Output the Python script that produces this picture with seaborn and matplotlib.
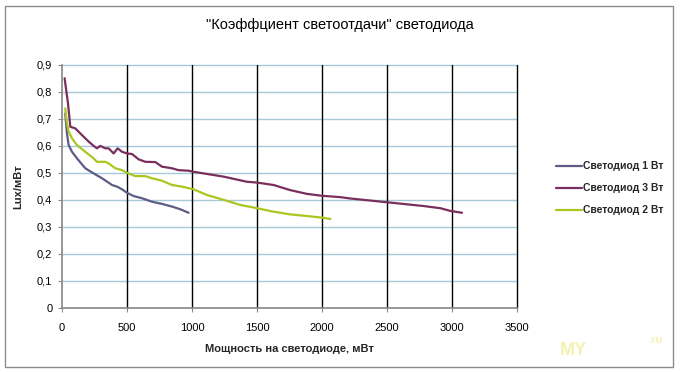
import numpy as np
import pandas as pd
import matplotlib
matplotlib.use("Agg")
import matplotlib.pyplot as plt
import seaborn as sns
from matplotlib.patches import Rectangle

title = '"Коэффциент светоотдачи" светодиода'
x_label = "Мощность на светодиоде, мВт"
y_label = "Lux/мВт"
series_names = ["Светодиод 1 Вт", "Светодиод 3 Вт", "Светодиод 2 Вт"]

x_1w = [25, 38, 51, 77, 115, 179, 243, 308, 385, 423, 462, 500, 551, 615, 692, 769, 846, 910, 974]
y_1w = [0.72, 0.647, 0.603, 0.578, 0.554, 0.517, 0.498, 0.48, 0.455, 0.449, 0.439, 0.426, 0.414, 0.406,
        0.393, 0.385, 0.375, 0.365, 0.352]

x_3w = [20, 46, 64, 102, 154, 205, 243, 269, 295, 333, 359, 397, 428, 462, 500, 538, 590, 641, 718,
        769, 846, 897, 974, 1012, 1243, 1423, 1500, 1628, 1756, 1885, 2000, 2141, 2218, 2500, 2782,
        2910, 2987, 3077]
y_3w = [0.851, 0.758, 0.671, 0.665, 0.64, 0.616, 0.60, 0.591, 0.60, 0.591, 0.591, 0.572, 0.591, 0.578,
        0.572, 0.57, 0.55, 0.541, 0.54, 0.523, 0.517, 0.51, 0.508, 0.504, 0.486, 0.467, 0.464, 0.455,
        0.436, 0.422, 0.415, 0.41, 0.405, 0.391, 0.377, 0.369, 0.359, 0.352]

x_2w = [25, 38, 51, 77, 115, 179, 243, 269, 333, 359, 410, 462, 500, 564, 641, 692, 769, 846, 923,
        1012, 1115, 1243, 1372, 1500, 1628, 1756, 1885, 2000, 2064]
y_2w = [0.739, 0.684, 0.653, 0.628, 0.603, 0.578, 0.554, 0.541, 0.541, 0.535, 0.517, 0.51, 0.50, 0.488,
        0.488, 0.48, 0.471, 0.455, 0.449, 0.439, 0.418, 0.40, 0.381, 0.369, 0.356, 0.346, 0.34, 0.334,
        0.329]

x_ticks = [0, 500, 1000, 1500, 2000, 2500, 3000, 3500]
y_ticks = [0, 0.1, 0.2, 0.3, 0.4, 0.5, 0.6, 0.7, 0.8, 0.9]
colors = ["#5c5c86", "#7a2e5c", "#a9c720"]

df = pd.concat([
    pd.DataFrame({"x": x_1w, "y": y_1w, "s": series_names[0]}),
    pd.DataFrame({"x": x_3w, "y": y_3w, "s": series_names[1]}),
    pd.DataFrame({"x": x_2w, "y": y_2w, "s": series_names[2]}),
], ignore_index=True)

sns.set_theme(style="white")
plt.rcParams["font.family"] = ["Liberation Sans", "DejaVu Sans"]

fig = plt.figure(figsize=(6.81, 3.72), dpi=100)
ax = fig.add_axes([62 / 681, 1 - 307.7 / 372, (517 - 62) / 681, (307.7 - 65) / 372])

sns.lineplot(data=df, x="x", y="y", hue="s", hue_order=series_names, palette=colors,
             sort=False, estimator=None, linewidth=1.6, ax=ax, legend=False)

ax.set_xlim(0, 3500)
ax.set_ylim(0, 0.9)
ax.set_xticks(x_ticks)
ax.set_xticklabels([str(v) for v in x_ticks], fontsize=8)
ax.set_yticks(y_ticks)
ax.set_yticklabels(["0"] + [f"{v:.1f}".replace(".", ",") for v in y_ticks[1:]], fontsize=8)
for v in y_ticks[1:]:
    ax.axhline(v, color="#a7c9da", linewidth=1.0, zorder=0, clip_on=False)
for v in x_ticks[1:]:
    ax.axvline(v, color="black", linewidth=1.0, zorder=0, clip_on=False)
ax.spines["top"].set_visible(False)
ax.spines["right"].set_visible(False)
ax.spines["left"].set_color("#8a8a8a")
ax.spines["bottom"].set_color("#8a8a8a")
ax.tick_params(axis="both", which="both", direction="out", length=3, width=0.8,
               color="#8a8a8a", labelcolor="black", pad=8)
ax.tick_params(axis="y", pad=4)
ax.tick_params(bottom=True, left=True)
ax.set_xlabel(x_label, fontsize=8, fontweight="bold", labelpad=8)
ax.set_ylabel(y_label, fontsize=8, fontweight="bold", labelpad=10)

fig.text(340 / 681, 1 - 25 / 372, title, ha="center", va="center", fontsize=10.5, color="black")

# legend
leg_rows = [166, 188, 210]
for name, c, yy in zip(series_names, colors, leg_rows):
    yf = 1 - yy / 372
    fig.add_artist(plt.Line2D([556 / 681, 582 / 681], [yf, yf], color=c, linewidth=1.6))
    fig.text(583 / 681, yf, name, ha="left", va="center", fontsize=7.5, fontweight="bold")

# outer border
fig.add_artist(Rectangle((5 / 681, 5 / 372), 668 / 681, 361 / 372, transform=fig.transFigure,
                         fill=False, edgecolor="#8c8c8c", linewidth=1.0))

# faint watermark
fig.text(560 / 681, 1 - 355 / 372, "MY", fontsize=13, fontweight="bold", color="#f3ee9c", alpha=0.8)
fig.text(648 / 681, 1 - 343 / 372, ".ru", fontsize=8, fontweight="bold", color="#f3ee9c", alpha=0.8)

fig.savefig("out.png", dpi=100)
